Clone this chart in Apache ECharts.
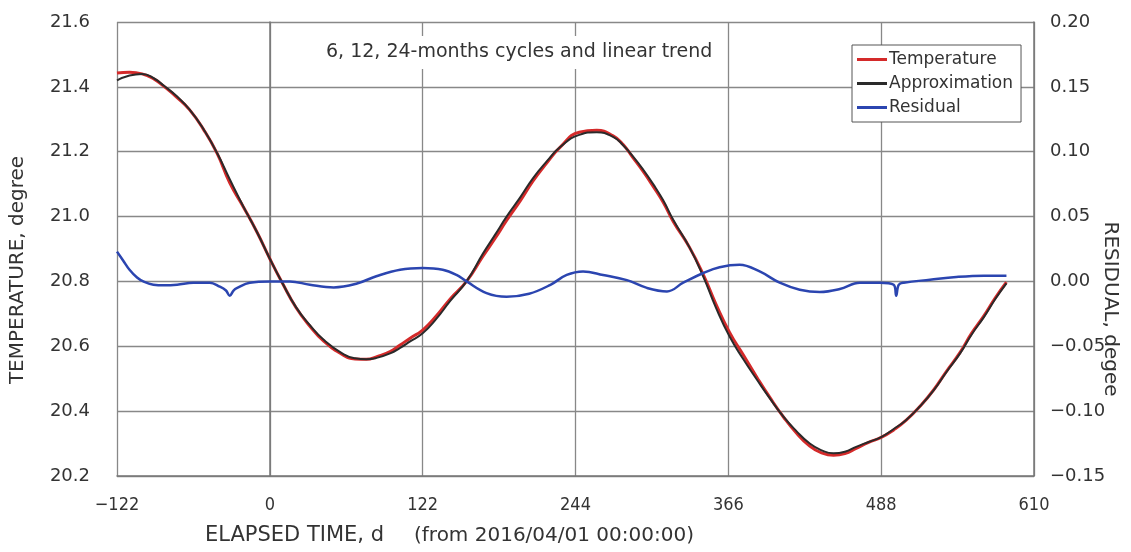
<!DOCTYPE html>
<html>
<head>
<meta charset="utf-8">
<script src="https://cdn.jsdelivr.net/npm/echarts@6/dist/echarts.min.js"></script>
<style>
html,body{margin:0;padding:0;background:#fff;}
#chart{width:1131px;height:552px;}
</style>
</head>
<body>
<div id="chart"></div>
<script>
// Elapsed days (shared by Temperature and Approximation)
const days = [-122,-112,-102,-92,-85,-74,-64,-53,-42,-32,-21,-10,0,10,21,32,43,59,68,77,86,96,104,112,122,133,144,157,170,180,189,200,210,221,232,247,261,274,282,290,298,306,314,322,335,346,356,367,378,389,399,410,420,431,440,450,459,468,478,488,498,508,519,530,540,551,560,570,579,588];
const temperature = [21.443,21.445,21.44,21.423,21.403,21.367,21.329,21.269,21.194,21.104,21.029,20.95,20.87,20.795,20.719,20.662,20.616,20.572,20.561,20.56,20.569,20.584,20.604,20.625,20.65,20.694,20.746,20.80,20.877,20.934,20.988,21.049,21.109,21.165,21.215,21.26,21.266,21.249,21.222,21.181,21.139,21.093,21.044,20.985,20.905,20.821,20.731,20.643,20.573,20.503,20.443,20.382,20.334,20.292,20.272,20.264,20.269,20.285,20.304,20.319,20.342,20.372,20.415,20.466,20.522,20.581,20.639,20.694,20.749,20.798];
const approximation = [21.42,21.435,21.44,21.425,21.405,21.37,21.33,21.27,21.195,21.115,21.03,20.95,20.87,20.795,20.72,20.665,20.62,20.575,20.563,20.56,20.565,20.578,20.595,20.615,20.64,20.685,20.74,20.80,20.885,20.945,21.0,21.06,21.118,21.17,21.215,21.252,21.26,21.246,21.22,21.185,21.145,21.10,21.05,20.99,20.905,20.815,20.72,20.63,20.56,20.496,20.44,20.383,20.34,20.30,20.28,20.27,20.275,20.29,20.305,20.32,20.345,20.373,20.415,20.465,20.52,20.578,20.635,20.69,20.745,20.794];
// Residual (own sampling days)
const residualDays = [-122,-117,-112,-106,-101,-93,-84,-74,-61,-48,-40,-35,-32,-29,-26,-16,0,16,32,51,69,85,104,122,138,149,157,173,189,207,224,237,250,266,285,301,317,330,346,359,375,391,407,423,439,455,471,487,498,500,502,506,527,548,570,588];
const residual = [0.023,0.016,0.009,0.003,0.0,-0.0025,-0.003,-0.0025,-0.001,-0.001,-0.004,-0.007,-0.011,-0.007,-0.005,-0.001,0.0,0.0,-0.0026,-0.0046,-0.0018,0.004,0.009,0.0103,0.009,0.005,0.0,-0.009,-0.0118,-0.0095,-0.0026,0.005,0.0077,0.005,0.001,-0.005,-0.0077,-0.001,0.0065,0.011,0.0129,0.0077,-0.001,-0.0064,-0.0082,-0.0059,-0.001,-0.001,-0.0026,-0.011,-0.0026,-0.001,0.0013,0.0034,0.0044,0.0044];

const seriesNames = ['Temperature','Approximation','Residual'];
const titleText = '6, 12, 24-months cycles and linear trend';
const xName1 = 'ELAPSED TIME, d';
const xName2 = '(from 2016/04/01 00:00:00)';
const yLeftName = 'TEMPERATURE, degree';
const yRightName = 'RESIDUAL, degee';

const FONT = "'DejaVu Sans', sans-serif";
const NARROW = "'DejaVu Sans Condensed', 'Liberation Sans Narrow', sans-serif";
const TXT = '#333';

const pair = (xs, ys) => xs.map((x, i) => [x, ys[i]]);
const minus = s => s.replace('-', '\u2212');

const chart = echarts.init(document.getElementById('chart'), null, {renderer: 'canvas'});
chart.setOption({
  backgroundColor: '#fff',
  animation: false,
  title: {
    text: titleText,
    left: 316, top: 36,
    padding: [7, 10],
    backgroundColor: '#fff',
    textStyle: {fontFamily: FONT, fontSize: 19, fontWeight: 'normal', color: TXT}
  },
  legend: {
    data: seriesNames,
    orient: 'vertical',
    left: 852, top: 45,
    padding: [6, 8, 6, 5],
    itemGap: 7,
    itemWidth: 30, itemHeight: 3,
    icon: 'rect',
    backgroundColor: '#fff',
    borderColor: '#555', borderWidth: 1,
    textStyle: {fontFamily: FONT, fontSize: 17, color: TXT, padding: [0,0,0,-3]}
  },
  grid: {left: 117, right: 97, top: 22, bottom: 76, containLabel: false},
  xAxis: {
    type: 'value', min: -122, max: 610, interval: 122,
    axisLine: {show: true, onZero: false, lineStyle: {color: '#777', width: 1.5}},
    axisTick: {show: false},
    splitLine: {show: true, lineStyle: {color: '#888', width: 1.3}},
    axisLabel: {color: TXT, fontFamily: NARROW, fontSize: 18, margin: 20,
      formatter: v => minus(String(v))}
  },
  yAxis: [{
    type: 'value', min: 20.2, max: 21.6, interval: 0.2, position: 'left',
    axisLine: {show: true, lineStyle: {color: '#777', width: 1.5}},
    axisTick: {show: false},
    splitLine: {show: true, lineStyle: {color: '#888', width: 1.3}},
    axisLabel: {color: TXT, fontFamily: FONT, fontSize: 18, margin: 27,
      formatter: v => v.toFixed(1)}
  }, {
    type: 'value', min: -0.15, max: 0.20, interval: 0.05, position: 'right',
    axisLine: {show: true, lineStyle: {color: '#777', width: 1.5}},
    axisTick: {show: false},
    splitLine: {show: false},
    axisLabel: {color: TXT, fontFamily: FONT, fontSize: 18, margin: 16,
      formatter: v => minus(v.toFixed(2))}
  }],
  graphic: [
    {type: 'text', x: 205, y: 536,
     style: {text: xName1, font: "21px " + FONT, fill: TXT, verticalAlign: 'middle'}},
    {type: 'text', x: 414, y: 536,
     style: {text: xName2, font: "20px " + FONT, fill: TXT, verticalAlign: 'middle'}},
    {type: 'text', x: 18, y: 270, rotation: Math.PI / 2,
     style: {text: yLeftName, font: "20px " + FONT, fill: TXT, align: 'center', verticalAlign: 'middle'}},
    {type: 'text', x: 1110, y: 309, rotation: -Math.PI / 2,
     style: {text: yRightName, font: "20px " + FONT, fill: TXT, align: 'center', verticalAlign: 'middle'}}
  ],
  series: [{
    name: seriesNames[0], type: 'line', yAxisIndex: 0,
    data: pair(days, temperature),
    showSymbol: false, smooth: 0.5,
    lineStyle: {color: '#d42a2a', width: 3},
    itemStyle: {color: '#d42a2a'}, z: 2
  }, {
    name: seriesNames[1], type: 'line', yAxisIndex: 0,
    data: pair(days, approximation),
    showSymbol: false, smooth: 0.5,
    lineStyle: {color: '#2a2a2a', width: 2},
    itemStyle: {color: '#2a2a2a'}, z: 3
  }, {
    name: seriesNames[2], type: 'line', yAxisIndex: 1,
    data: pair(residualDays, residual),
    showSymbol: false, smooth: 0.4,
    lineStyle: {color: '#2b45b0', width: 2.5},
    itemStyle: {color: '#2b45b0'}, z: 4
  }]
});
</script>
</body>
</html>
